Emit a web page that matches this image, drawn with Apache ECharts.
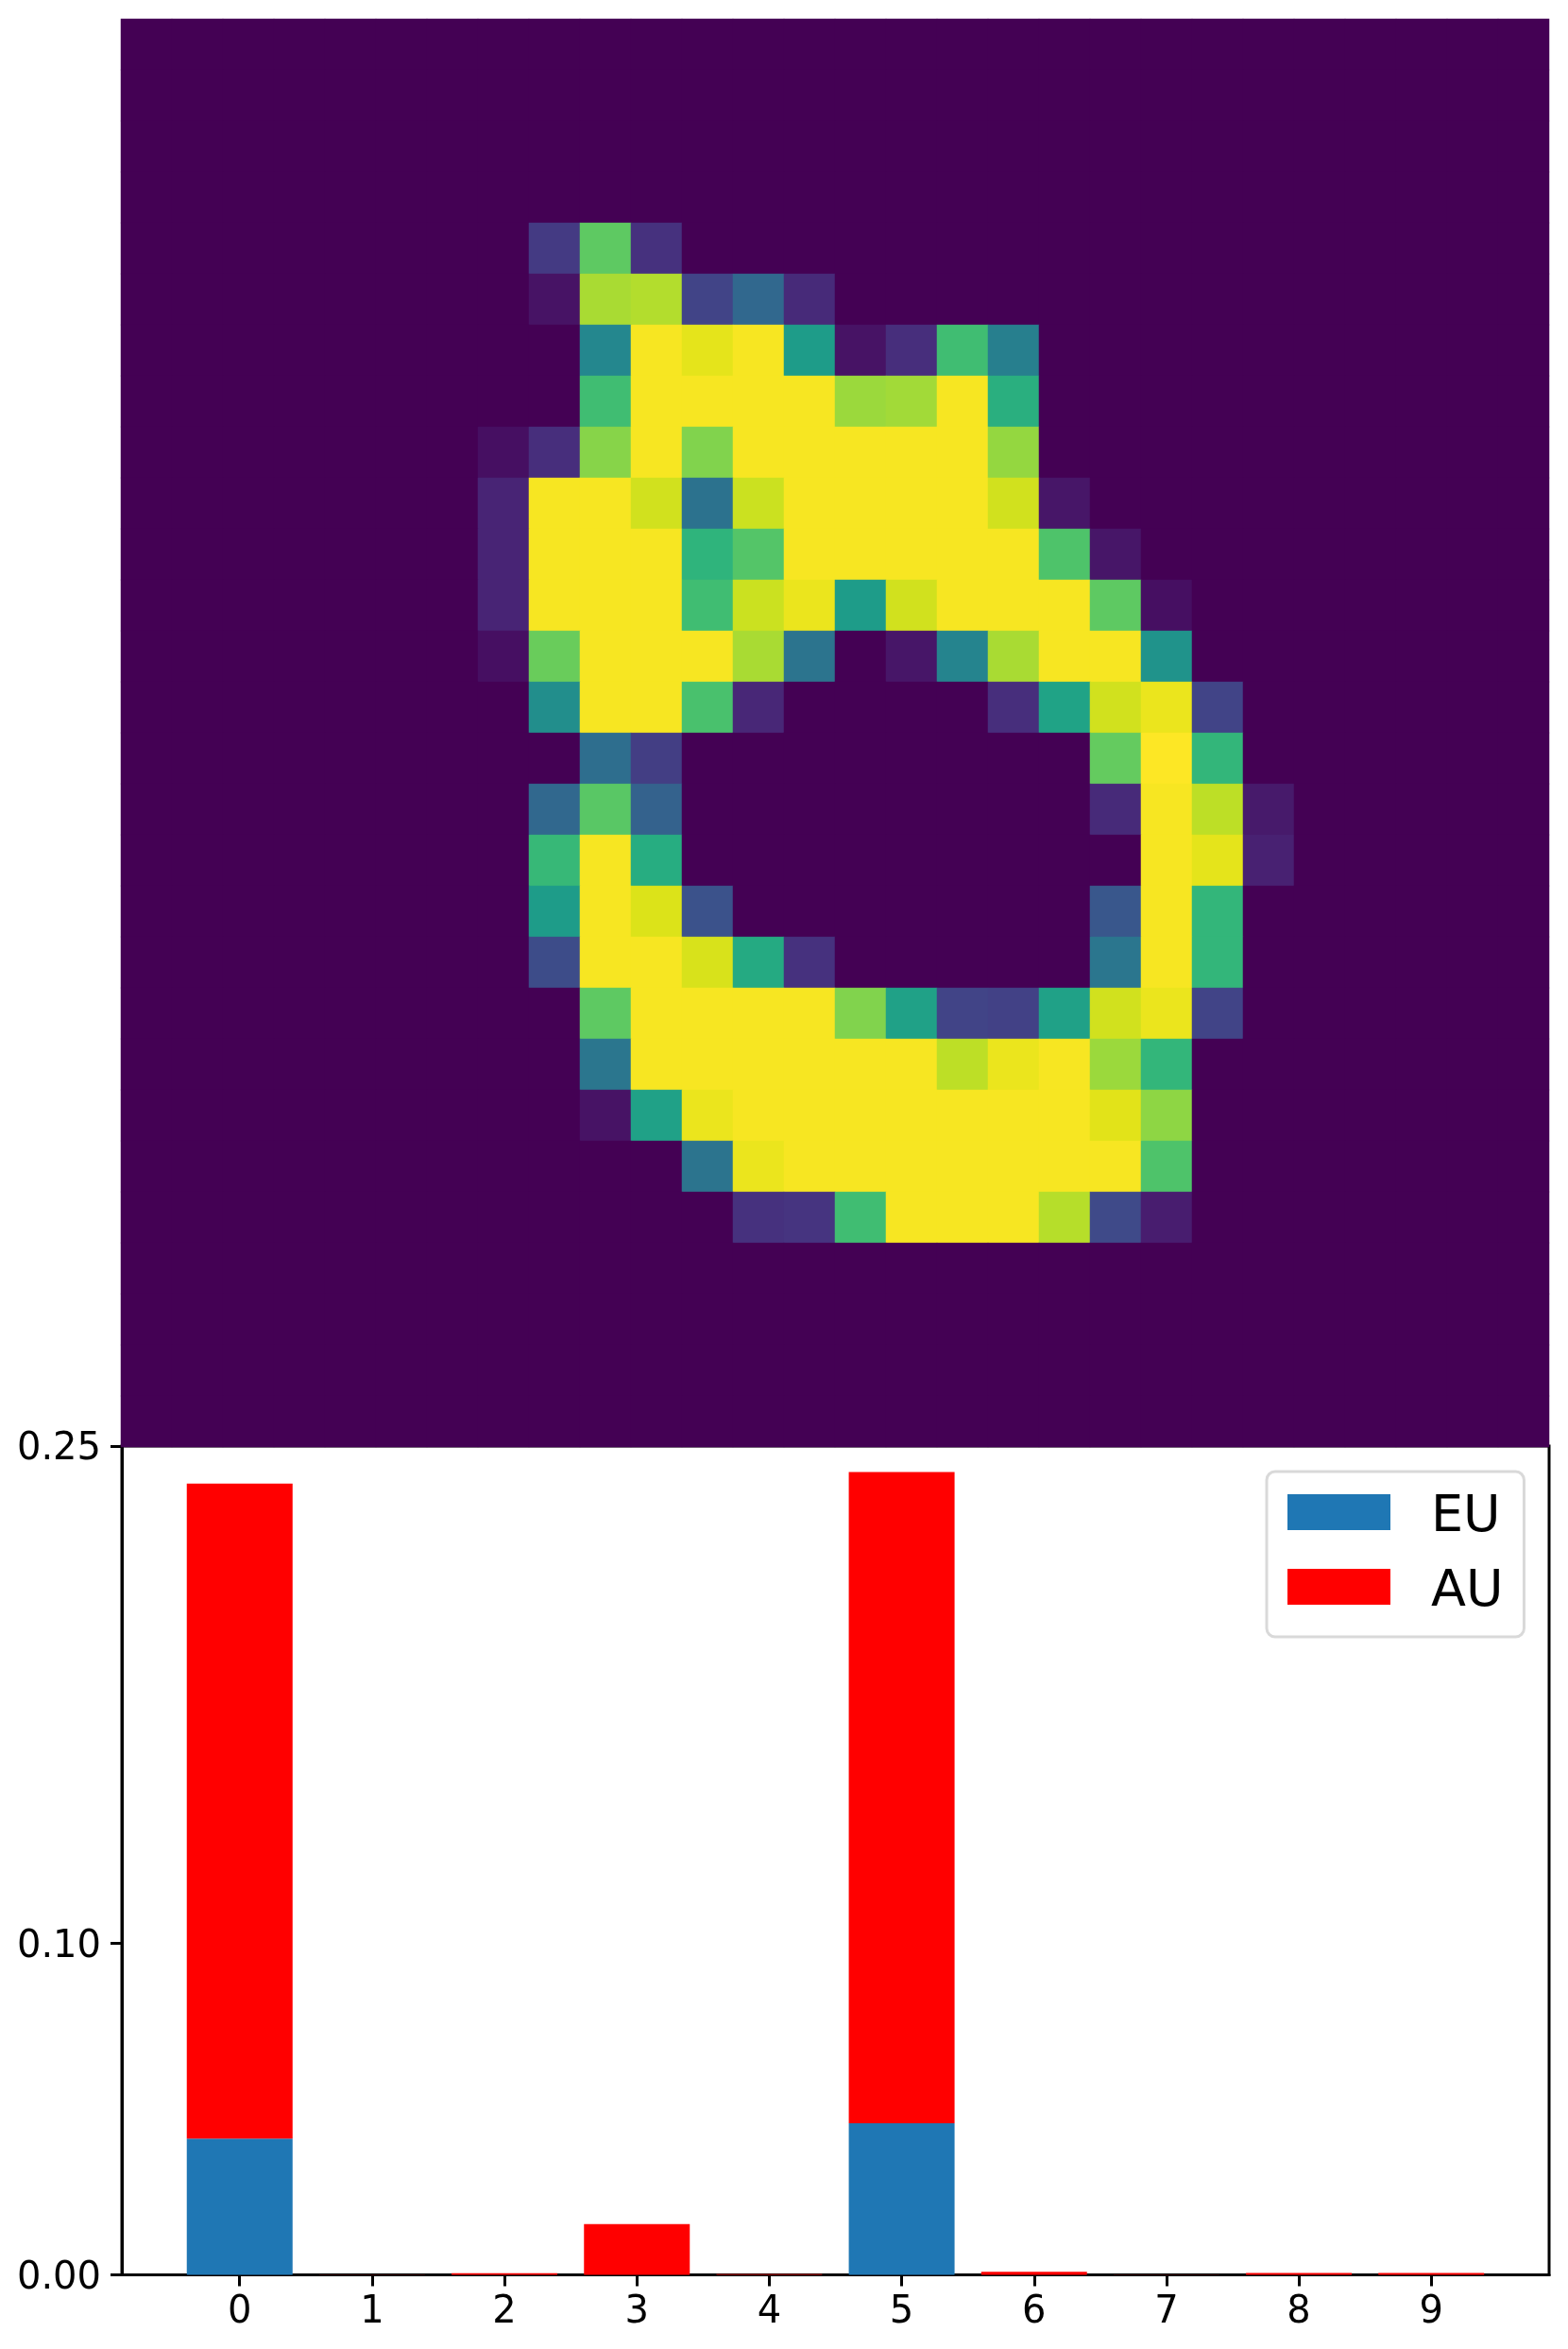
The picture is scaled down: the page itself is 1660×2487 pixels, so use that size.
<!DOCTYPE html>
<html>
<head>
<meta charset="utf-8">
<style>html,body{margin:0;padding:0;background:#fff}#c{width:1660px;height:2487px}</style>
<script src="https://cdn.jsdelivr.net/npm/echarts@6/dist/echarts.min.js"></script>
</head>
<body>
<div id="c"></div>
<script>
// 28x28 image, each row: [first lit column, values...]; everything else is 0
const Y = 0.99;
const imageRows = {
  4:  [8, .17,.75,.14],
  5:  [8, .05,.87,.885,.2,.33,.12],
  6:  [9, .46,Y,.96,Y,.55,.05,.13,.69,.43],
  7:  [9, .69,Y,Y,Y,Y,.85,.86,Y,.63],
  8:  [7, .04,.13,.82,Y,.81,Y,Y,Y,Y,Y,.84],
  9:  [7, .10,Y,Y,.93,.37,.92,Y,Y,Y,Y,.93,.06],
  10: [7, .10,Y,Y,Y,.65,.73,Y,Y,Y,Y,Y,.72,.06],
  11: [7, .10,Y,Y,Y,.69,.92,.97,.55,.93,Y,Y,Y,.75,.04],
  12: [7, .04,.77,Y,Y,Y,.87,.38,0,.06,.45,.87,Y,Y,.51],
  13: [8, .49,Y,Y,.71,.11,0,0,0,0,.13,.58,.93,.97,.2],
  14: [9, .35,.18,0,0,0,0,0,0,0,0,.76,1,.66],
  15: [8, .33,.74,.31,0,0,0,0,0,0,0,0,.12,Y,.90,.07],
  16: [8, .67,Y,.62,0,0,0,0,0,0,0,0,0,Y,.96,.09],
  17: [8, .55,Y,.945,.25,0,0,0,0,0,0,0,.27,Y,.66],
  18: [8, .23,Y,Y,.94,.61,.14,0,0,0,0,0,.39,Y,.66],
  19: [9, .75,Y,Y,Y,Y,.81,.57,.2,.19,.57,.93,.97,.2],
  20: [9, .39,Y,Y,Y,Y,Y,Y,.90,.97,Y,.85,.66],
  21: [9, .05,.57,.97,Y,Y,Y,Y,Y,Y,Y,.955,.83],
  22: [11, .38,.97,Y,Y,Y,Y,Y,Y,Y,.72],
  23: [12, .14,.15,.69,Y,Y,Y,.89,.22,.08]
};
const viridis = ['#440154','#471365','#482475','#463480','#414487','#3b528b','#355f8d','#2e6e8e','#2a788e','#25848e','#21918c','#1e9c89','#22a884','#2fb47c','#44bf70','#5ec962','#7ad151','#9bd93c','#bddf26','#dfe318','#fde725'];

const classes = [0,1,2,3,4,5,6,7,8,9];
const euValues = [0.0411,0,0,0,0,0.0457,0,0,0,0];
const auValues = [0.1976,0.0001,0.0005,0.0153,0.0002,0.1965,0.0009,0.0001,0.0006,0.0006];
const yTicks = [0,0.10,0.25];

const idx28 = Array.from({length:28},(_,i)=>i);
const heat = [];
for (const r of idx28) {
  const row = imageRows[r];
  for (const c of idx28) {
    let v = 0;
    if (row && c >= row[0] && c - row[0] + 1 < row.length) v = row[c - row[0] + 1];
    heat.push([c, r, v]);
  }
}
const font = '"DejaVu Sans"';
const chart = echarts.init(document.getElementById('c'), null, {renderer:'canvas'});
chart.setOption({
  animation:false,
  backgroundColor:'#fff',
  textStyle:{fontFamily:font},
  visualMap:{show:false,min:0,max:1,seriesIndex:0,inRange:{color:viridis}},
  legend:{
    left:1341, top:1558, orient:'vertical', icon:'rect',
    itemWidth:109, itemHeight:38, itemGap:25,
    padding:[22,22,20,22],
    backgroundColor:'#fff', borderColor:'#d9d9d9', borderWidth:3, borderRadius:9,
    selectedMode:false,
    data:['EU','AU'],
    formatter:name=>'{a|'+name+'}',
    textStyle:{fontFamily:font,fontSize:54,color:'#000',
      rich:{a:{fontFamily:font,fontSize:54,color:'#000',padding:[12,0,0,38]}}}
  },
  grid:[
    {left:128,top:20,width:1512,height:1512,show:true,backgroundColor:'#440154',borderWidth:0},
    {left:129,top:1531,width:1511,height:877.5,show:true,backgroundColor:'#fff',borderColor:'#000',borderWidth:3}
  ],
  xAxis:[
    {gridIndex:0,type:'category',data:idx28,show:false},
    {gridIndex:1,type:'value',min:-0.89,max:9.89,splitLine:{show:false},
      axisLine:{show:true,onZero:false,lineStyle:{color:'#000',width:3}},
      axisTick:{show:true,length:12,lineStyle:{color:'#000',width:3},customValues:classes},
      axisLabel:{show:true,customValues:classes,margin:20,color:'#000',fontFamily:font,fontSize:40,hideOverlap:false}}
  ],
  yAxis:[
    {gridIndex:0,type:'category',data:idx28,inverse:true,show:false},
    {gridIndex:1,type:'value',min:0,max:0.25,splitLine:{show:false},
      axisLine:{show:true,onZero:false,lineStyle:{color:'#000',width:3}},
      axisTick:{show:true,length:12,lineStyle:{color:'#000',width:3},customValues:yTicks},
      axisLabel:{show:true,customValues:yTicks,margin:22,color:'#000',fontFamily:font,fontSize:40,
        verticalAlign:'top',lineHeight:8,
        formatter:v=>v.toFixed(2)}}
  ],
  series:[
    {type:'heatmap',xAxisIndex:0,yAxisIndex:0,data:heat,progressive:0,itemStyle:{borderWidth:0},emphasis:{disabled:true}},
    {name:'EU',type:'bar',xAxisIndex:1,yAxisIndex:1,stack:'u',barWidth:112,itemStyle:{color:'#1f77b4'},
      encode:{x:1,y:0},
      data:classes.map(i=>[euValues[i],i])},
    {name:'AU',type:'bar',xAxisIndex:1,yAxisIndex:1,stack:'u',barWidth:112,itemStyle:{color:'#ff0000'},
      encode:{x:1,y:0},
      data:classes.map(i=>[auValues[i],i])}
  ]
});
</script>
</body>
</html>
